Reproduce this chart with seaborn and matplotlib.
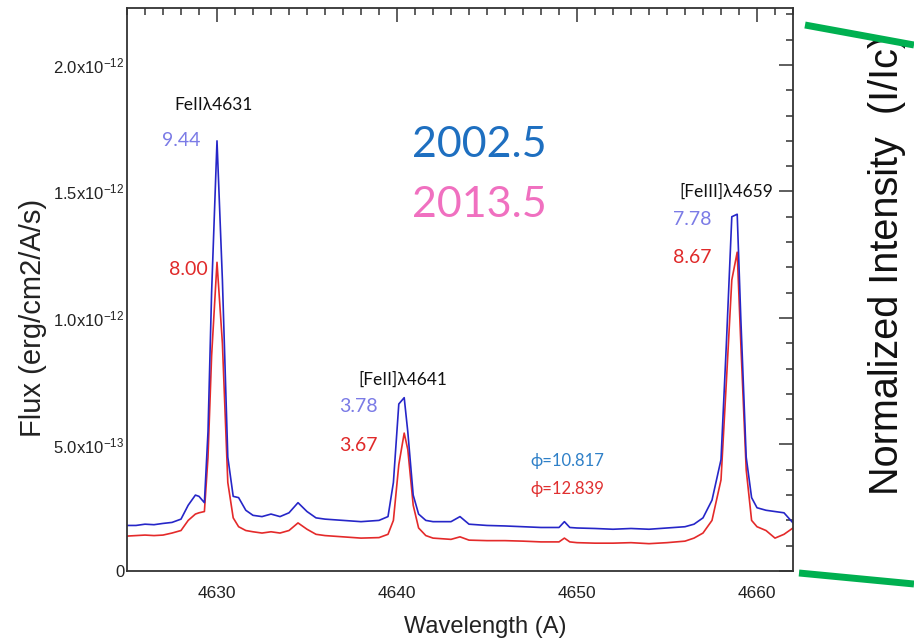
import matplotlib
matplotlib.use("Agg")
import matplotlib.pyplot as plt
from matplotlib.lines import Line2D
from matplotlib.ticker import FixedLocator, MultipleLocator
import numpy as np
import pandas as pd
import seaborn as sns

# ---------------- data ----------------
wavelength = [4625.0, 4625.5, 4626.0, 4626.5, 4627.0, 4627.5, 4628.0, 4628.4, 4628.8, 4629.0,
              4629.3, 4629.5, 4629.7, 4630.0, 4630.3, 4630.6, 4630.9, 4631.2, 4631.6, 4632.0,
              4632.5, 4633.0, 4633.5, 4634.0, 4634.5, 4635.0, 4635.5, 4636.0, 4637.0, 4638.0,
              4639.0, 4639.5, 4639.8, 4640.1, 4640.4, 4640.6, 4640.9, 4641.2, 4641.6, 4642.0,
              4643.0, 4643.5, 4644.0, 4645.0, 4646.0, 4647.0, 4648.0, 4649.0, 4649.3, 4649.6,
              4650.0, 4651.0, 4652.0, 4653.0, 4654.0, 4655.0, 4656.0, 4656.5, 4657.0, 4657.5,
              4658.0, 4658.3, 4658.6, 4658.9, 4659.1, 4659.4, 4659.7, 4660.0, 4660.5, 4661.0,
              4661.5, 4662.0]

# flux in units of 1e-13 erg/cm2/A/s
flux_2002_e13 = [1.80, 1.80, 1.85, 1.83, 1.88, 1.92, 2.05, 2.60, 3.00, 2.95,
                 2.70, 5.5, 11.0, 17.0, 11.5, 4.5, 2.95, 2.90, 2.40, 2.20,
                 2.15, 2.25, 2.15, 2.30, 2.70, 2.35, 2.10, 2.05, 2.00, 1.95,
                 2.00, 2.15, 3.5, 6.6, 6.85, 5.5, 3.0, 2.25, 2.00, 1.95,
                 1.95, 2.15, 1.85, 1.80, 1.78, 1.75, 1.72, 1.72, 1.95, 1.72,
                 1.70, 1.68, 1.65, 1.68, 1.65, 1.70, 1.75, 1.85, 2.10, 2.80,
                 4.40, 9.0, 14.0, 14.1, 10.0, 4.5, 2.9, 2.50, 2.40, 2.35,
                 2.30, 1.90]

flux_2013_e13 = [1.38, 1.40, 1.42, 1.40, 1.42, 1.50, 1.60, 2.00, 2.25, 2.30,
                 2.35, 4.5, 8.5, 12.2, 9.0, 3.5, 2.10, 1.75, 1.60, 1.55,
                 1.50, 1.55, 1.50, 1.60, 1.90, 1.65, 1.45, 1.40, 1.35, 1.30,
                 1.32, 1.45, 2.0, 4.2, 5.45, 4.8, 2.6, 1.70, 1.40, 1.30,
                 1.25, 1.35, 1.22, 1.20, 1.20, 1.18, 1.15, 1.15, 1.30, 1.15,
                 1.12, 1.10, 1.10, 1.12, 1.08, 1.12, 1.18, 1.30, 1.50, 2.00,
                 3.60, 7.5, 11.5, 12.6, 9.0, 4.0, 2.0, 1.75, 1.60, 1.30,
                 1.45, 1.70]

x_ticks = [4630, 4640, 4650, 4660]
x_ticklabels = ["4630", "4640", "4650", "4660"]
y_ticks = [0, 5.0e-13, 1.0e-12, 1.5e-12, 2.0e-12]
y_ticklabels = ["0", r"5.0x10$^{-13}$", r"1.0x10$^{-12}$", r"1.5x10$^{-12}$", r"2.0x10$^{-12}$"]

line_labels = ["FeIIλ4631", "[FeII]λ4641", "[FeIII]λ4659"]
label_pos = [(4629.8, 1.84e-12), (4640.35, 7.55e-13), (4658.3, 1.50e-12)]
ratios_2002 = ["9.44", "3.78", "7.78"]
ratios_2013 = ["8.00", "3.67", "8.67"]
ratio_x_2002 = [4629.1, 4638.95, 4657.45]
ratio_x_2013 = [4629.5, 4638.95, 4657.5]
ratio_y_2002 = [1.70e-12, 6.50e-13, 1.39e-12]
ratio_y_2013 = [1.19e-12, 4.95e-13, 1.24e-12]
epochs = ["2002.5", "2013.5"]
phases = ["ϕ=10.817", "ϕ=12.839"]

scale = 1e-13
df = pd.DataFrame({
    "wl": wavelength * 2,
    "flux": [v * scale for v in flux_2013_e13] + [v * scale for v in flux_2002_e13],
    "epoch": ["2013.5"] * len(wavelength) + ["2002.5"] * len(wavelength),
})

# ---------------- style ----------------
sns.set_style("white")
plt.rcParams["font.family"] = ["Liberation Sans", "DejaVu Sans"]
plt.rcParams["mathtext.fontset"] = "custom"
plt.rcParams["mathtext.rm"] = "Liberation Sans"
plt.rcParams["mathtext.it"] = "Liberation Sans:italic"

fig = plt.figure(figsize=(9.14, 6.42), dpi=100)
fig.patch.set_facecolor("white")
ax = fig.add_axes([127 / 914, 1 - 571 / 642, (793 - 127) / 914, (571 - 8) / 642])

sns.lineplot(data=df, x="wl", y="flux", hue="epoch",
             palette={"2013.5": "#E42A2A", "2002.5": "#2626C8"},
             hue_order=["2013.5", "2002.5"], sort=False, estimator=None,
             linewidth=1.2, legend=False, ax=ax)

ax.set_xlim(4625, 4662)
ax.set_ylim(0, 2.225e-12)
ax.xaxis.set_major_locator(FixedLocator(x_ticks))
ax.set_xticklabels(x_ticklabels)
ax.xaxis.set_minor_locator(MultipleLocator(1))
ax.yaxis.set_major_locator(FixedLocator(y_ticks))
ax.set_yticklabels(y_ticklabels)
ax.yaxis.set_minor_locator(MultipleLocator(1e-13))

for s in ax.spines.values():
    s.set_color("#333333")
    s.set_linewidth(1.3)
ax.tick_params(which="both", direction="in", top=True, right=True,
               color="#333333", width=1.1)
ax.tick_params(which="major", length=10, labelsize=12, pad=2, labelcolor="#222222")
ax.tick_params(which="minor", length=5)
ax.tick_params(axis="x", which="major", pad=11, labelsize=12.5)

ax.set_xlabel("")
ax.set_ylabel("")
fig.text(33 / 914, 1 - 318 / 642, "Flux (erg/cm2/A/s)", rotation=90,
         ha="center", va="center", fontsize=21, color="#222222")
fig.text(485 / 914, 1 - 627 / 642, "Wavelength (A)",
         ha="center", va="center", fontsize=17, color="#222222")

# annotations
ann_font = ["Lato", "DejaVu Sans"]
for lbl, (lx, ly) in zip(line_labels, label_pos):
    ax.text(lx, ly, lbl, ha="center", va="center", fontsize=12.5,
            color="#111111", family=ann_font)
for r, xx, yy in zip(ratios_2002, ratio_x_2002, ratio_y_2002):
    ax.text(xx, yy, r, ha="right", va="center", fontsize=14,
            color="#7B7BE6", family=ann_font)
for r, xx, yy in zip(ratios_2013, ratio_x_2013, ratio_y_2013):
    ax.text(xx, yy, r, ha="right", va="center", fontsize=14,
            color="#E02A2A", family=ann_font)

ax.text(4644.6, 1.685e-12, epochs[0], ha="center", va="center", fontsize=31,
        color="#1E6FC0", family=ann_font)
ax.text(4644.6, 1.445e-12, epochs[1], ha="center", va="center", fontsize=31,
        color="#F070C0", family=ann_font)
ax.text(4647.4, 4.35e-13, phases[0], ha="left", va="center", fontsize=12,
        color="#2F80C8", family=ann_font)
ax.text(4647.4, 3.24e-13, phases[1], ha="left", va="center", fontsize=12,
        color="#E03030", family=ann_font)

# right-side label and green guide lines
fig.text(887 / 914, 1 - 265 / 642, "Normalized Intensity  (I/Ic)", rotation=90,
         ha="center", va="center", fontsize=28.5, color="#111111", zorder=3)
fig.add_artist(Line2D([805 / 914, 1.0], [1 - 25 / 642, 1 - 45 / 642],
                      color="#00B050", linewidth=5, solid_capstyle="butt", zorder=5))
fig.add_artist(Line2D([799 / 914, 1.0], [1 - 573 / 642, 1 - 584 / 642],
                      color="#00B050", linewidth=5, solid_capstyle="butt", zorder=5))

fig.savefig("out.png", dpi=100, facecolor="white")
